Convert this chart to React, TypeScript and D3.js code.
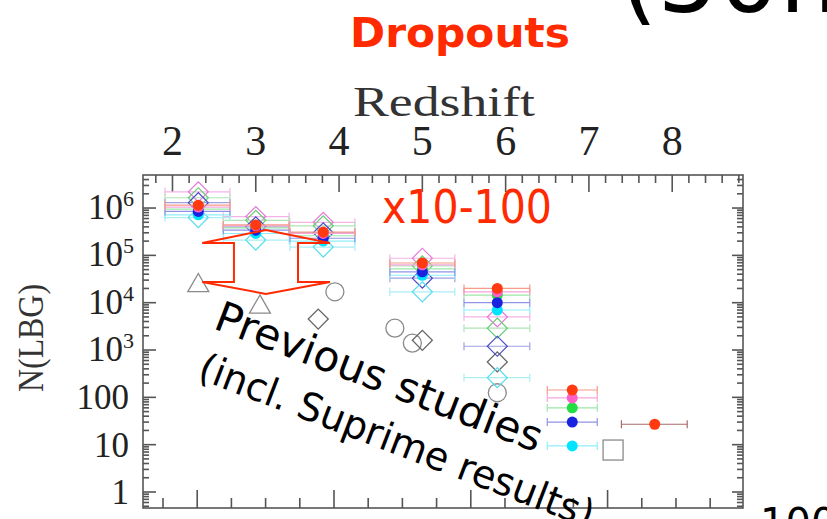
import React from 'react';
import * as d3 from 'd3';

const W = 827;
const H = 519;
const FL = 143;
const FR = 743;
const FT = 175;
const FB = 508;

// Redshift bins of the dropout samples (centre and range)
const binZ = [2.31, 3.0, 3.81, 5.0, 5.9, 6.8];
const binZLo = [1.91, 2.61, 3.41, 4.61, 5.5, 6.5];
const binZHi = [2.69, 3.4, 4.19, 5.39, 6.29, 7.1];

// Expected numbers, filled circles
const nRed = [1.15e6, 4.4e5, 3.1e5, 6.9e4, 2.0e4, 143];
const nPink = [1.05e6, 4.2e5, 2.9e5, 6.3e4, 1.7e4, 97];
const nGreen = [9.5e5, 3.8e5, 2.6e5, 5.2e4, 1.45e4, 60];
const nBlue = [8.5e5, 3.4e5, 2.3e5, 4.5e4, 1.0e4, 30];
const nCyan = [7.2e5, 2.9e5, 2.0e5, 3.8e4, 7.0e3, 9.4];

// Expected numbers, open diamonds (first five bins)
const dPink = [2.2e6, 6.6e5, 5.0e5, 8.7e4, 5.0e3];
const dGreen = [1.65e6, 5.5e5, 4.2e5, 6.0e4, 2.9e3];
const dBlue = [1.3e6, 4.0e5, 3.0e5, 3.3e4, 1.2e3];
const dCyan = [6.3e5, 2.1e5, 1.5e5, 1.7e4, 260];

// Highest-redshift bin
const topZ = 7.79;
const topZLo = 7.39;
const topZHi = 8.18;
const topN = 27;

// Previous studies
const prevTriZ = [2.31, 3.05];
const prevTriN = [2.3e4, 8.1e3];
const prevCircZ = [3.95, 4.67, 4.88, 5.9];
const prevCircN = [1.7e4, 2.9e3, 1.4e3, 125];
const prevDiamZ = [3.75, 5.0, 5.9];
const prevDiamN = [4.5e3, 1.6e3, 560];
const prevSquareZ = [7.29];
const prevSquareN = [7.7];

// Hollow double arrow (redshift, number) outline
const arrowZ = [2.357, 3.122, 3.891, 3.507, 3.507, 3.891, 3.122, 2.357, 2.738, 2.738];
const arrowN = [1.82e5, 3.43e5, 1.82e5, 1.82e5, 2.73e4, 2.73e4, 1.53e4, 2.73e4, 2.73e4, 1.82e5];

const redshiftTicks = [2, 3, 4, 5, 6, 7, 8];
const yLabelExp = [6, 5, 4, 3];
const yLabelPlain = ['100', '10', '1'];

const filledSeries = [
  { vals: nGreen, fill: '#22dd44', bar: '#9be8a8' },
  { vals: nCyan, fill: '#00e4ff', bar: '#8feefa' },
  { vals: nBlue, fill: '#1a22e0', bar: '#8f93e6' },
  { vals: nPink, fill: '#ff5fc8', bar: '#f7a6dc' },
  { vals: nRed, fill: '#ff3a10', bar: '#f79a88' },
];
const diamondSeries = [
  { vals: dPink, stroke: '#e77ad8', bar: '#f3b4e8' },
  { vals: dGreen, stroke: '#66cc77', bar: '#aee6b6' },
  { vals: dBlue, stroke: '#4a4ac8', bar: '#a0a0e0' },
  { vals: dCyan, stroke: '#55dcee', bar: '#aaeef6' },
];

export default function App() {
  const x = d3.scaleLinear().domain([1.646, 8.85]).range([FL, FR]);
  const y = d3.scaleLog().domain([0.459, 4.99e6]).range([FB, FT]);
  const xb = d3.scaleLinear().domain([-0.585, 16.96]).range([FL, FR]);

  const majorY = d3.range(0, 7).map((e) => Math.pow(10, e));
  const minorY: number[] = [];
  for (let e = -1; e <= 6; e++) {
    for (let k = 2; k <= 9; k++) {
      const v = k * Math.pow(10, e);
      if (v >= 0.459 && v <= 4.99e6) minorY.push(v);
    }
  }
  const topMinor = d3.range(9, 45).map((i) => i / 5).filter((z) => z >= 1.646 && z <= 8.85);
  const bottomTicks = d3.range(0, 17);

  const errBar = (lo: number, hi: number, n: number, color: string, key: string) => {
    const yy = y(n);
    return (
      <g key={key} stroke={color} strokeWidth={1.2} fill="none">
        <line x1={x(lo)} x2={x(hi)} y1={yy} y2={yy} />
        <line x1={x(lo)} x2={x(lo)} y1={yy - 4} y2={yy + 4} />
        <line x1={x(hi)} x2={x(hi)} y1={yy - 4} y2={yy + 4} />
      </g>
    );
  };

  const arrowPath = d3.line<number>()
    .x((_, i) => x(arrowZ[i]))
    .y((_, i) => y(arrowN[i]))
    .curve(d3.curveLinearClosed)(arrowZ);

  const diamond = d3.symbol(d3.symbolSquare, 200)();
  const triangle = d3.symbol(d3.symbolTriangle, 190)();

  return (
    <svg width={W} height={H} style={{ position: 'absolute', left: 0, top: 0, background: '#fff' }}>
      {/* headline texts */}
      <text x={350} y={47} fontFamily="DejaVu Sans" fontWeight="bold" fontSize={41} fill="#ff2a00" textLength={220} lengthAdjust="spacingAndGlyphs">Dropouts</text>
      <text x={620} y={12} fontFamily="DejaVu Sans" fontSize={96} fill="#000">(50m</text>
      <text x={760} y={537} fontFamily="DejaVu Sans" fontSize={40} fill="#000">100</text>

      {/* top axis title and labels */}
      <text x={353} y={116} fontFamily="Liberation Serif" fontSize={42} fill="#333" textLength={182} lengthAdjust="spacingAndGlyphs">Redshift</text>
      {redshiftTicks.map((z) => (
        <text key={z} x={x(z)} y={155} textAnchor="middle" fontFamily="Liberation Serif" fontSize={42} fill="#222">{z}</text>
      ))}

      {/* y axis title */}
      <text transform="translate(43,338) rotate(-90)" textAnchor="middle" fontFamily="Liberation Serif" fontSize={35} fill="#333" textLength={108} lengthAdjust="spacingAndGlyphs">N(LBG)</text>
      {yLabelExp.map((e) => (
        <text key={e} x={134} y={y(Math.pow(10, e)) + 11} textAnchor="end" fontFamily="Liberation Serif" fontSize={35} fill="#222">
          10<tspan fontSize={22} dy={-13}>{e}</tspan>
        </text>
      ))}
      {yLabelPlain.map((t) => (
        <text key={t} x={129} y={y(+t) + 12} textAnchor="end" fontFamily="Liberation Serif" fontSize={35} fill="#222">{t}</text>
      ))}

      {/* frame and ticks */}
      <g stroke="#555" strokeWidth={1.6} fill="none">
        <rect x={FL} y={FT} width={FR - FL} height={FB - FT} />
        {majorY.map((v) => (
          <g key={'my' + v}>
            <line x1={FL} x2={FL + 13} y1={y(v)} y2={y(v)} />
            <line x1={FR} x2={FR - 11} y1={y(v)} y2={y(v)} />
          </g>
        ))}
        {minorY.map((v) => (
          <g key={'ny' + v}>
            <line x1={FL} x2={FL + 6} y1={y(v)} y2={y(v)} />
            <line x1={FR} x2={FR - 6} y1={y(v)} y2={y(v)} />
          </g>
        ))}
        {topMinor.map((z) => {
          const major = Math.abs(z - Math.round(z)) < 1e-6;
          return <line key={'tz' + z} x1={x(z)} x2={x(z)} y1={FT} y2={FT + (major ? 17 : 8)} />;
        })}
        {bottomTicks.map((v) => {
          const major = (v - 1) % 4 === 0;
          return <line key={'bt' + v} x1={xb(v)} x2={xb(v)} y1={FB} y2={FB - (major ? 18 : 10)} />;
        })}
      </g>

      {/* previous studies */}
      <g stroke="#8a8a8a" strokeWidth={1.3} fill="none">
        {prevTriZ.map((z, i) => (
          <path key={'pt' + i} d={triangle!} transform={`translate(${x(z)},${y(prevTriN[i])})`} />
        ))}
        {prevCircZ.map((z, i) => (
          <circle key={'pc' + i} cx={x(z)} cy={y(prevCircN[i])} r={9} />
        ))}
        {prevDiamZ.map((z, i) => (
          <path key={'pd' + i} d={diamond!} transform={`translate(${x(z)},${y(prevDiamN[i])}) rotate(45)`} stroke="#666" />
        ))}
        {prevSquareZ.map((z, i) => (
          <rect key={'ps' + i} x={x(z) - 10} y={y(prevSquareN[i]) - 10} width={20} height={20} />
        ))}
      </g>

      {/* predicted numbers: diamonds */}
      {diamondSeries.map((s, si) => (
        <g key={'ds' + si}>
          {s.vals.map((n, i) => errBar(binZLo[i], binZHi[i], n, s.bar, `db${si}-${i}`))}
          {s.vals.map((n, i) => (
            <path key={`dm${si}-${i}`} d={diamond!} transform={`translate(${x(binZ[i])},${y(n)}) rotate(45)`} fill="none" stroke={s.stroke} strokeWidth={1.2} />
          ))}
        </g>
      ))}

      {/* predicted numbers: filled circles */}
      {filledSeries.map((s, si) => (
        <g key={'fs' + si}>{s.vals.map((n, i) => errBar(binZLo[i], binZHi[i], n, s.bar, `fb${si}-${i}`))}</g>
      ))}
      {filledSeries.map((s, si) => (
        <g key={'fc' + si}>
          {s.vals.map((n, i) => (
            <circle key={`c${si}-${i}`} cx={x(binZ[i])} cy={y(n)} r={5.5} fill={s.fill} />
          ))}
        </g>
      ))}
      {errBar(topZLo, topZHi, topN, '#a86a6a', 'topbar')}
      <circle cx={x(topZ)} cy={y(topN)} r={5.5} fill="#ff3a10" />

      {/* annotations */}
      <path d={arrowPath!} fill="none" stroke="#ff2a00" strokeWidth={2} />
      <text x={382} y={223} fontFamily="DejaVu Sans" fontSize={46} fill="#ff2a00" textLength={170} lengthAdjust="spacingAndGlyphs">x10-100</text>
      <text transform="translate(212,328) rotate(21)" fontFamily="DejaVu Sans" fontSize={42} fill="#000" textLength={347} lengthAdjust="spacingAndGlyphs">Previous studies</text>
      <text transform="translate(196,378) rotate(21)" fontFamily="DejaVu Sans" fontSize={39} fill="#000" textLength={420} lengthAdjust="spacingAndGlyphs">(incl. Suprime results)</text>
    </svg>
  );
}
